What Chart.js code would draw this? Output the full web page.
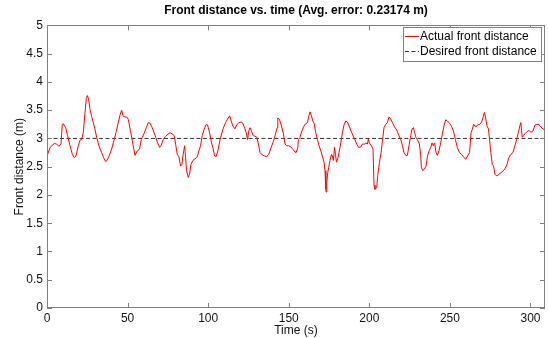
<!DOCTYPE html>
<html>
<head>
<meta charset="utf-8">
<script src="https://cdn.jsdelivr.net/npm/chart.js@4/dist/chart.umd.min.js"></script>
<style>
  html, body { margin: 0; padding: 0; background: #fff; }
  #wrap { width: 548px; height: 338px; }
</style>
</head>
<body>
<div id="wrap"><canvas id="chart" width="548" height="338"></canvas></div>
<script>
// values
const time = [0.4, 1.9, 4.5, 6.0, 7.4, 8.7, 9.5, 10.1, 11.6, 12.8, 14.3, 15.7, 16.9, 18.0, 19.4, 20.5, 21.5, 22.5, 23.6, 24.4,
  25.0, 25.8, 26.7, 27.7, 28.7, 29.8, 30.8, 32.2, 33.9, 35.1, 36.4, 37.2, 38.4, 40.1, 41.5, 42.8, 44.2, 45.4, 46.3, 47.3,
  48.4, 49.4, 50.4, 51.9, 53.3, 54.6, 56.0, 57.4, 58.5, 60.1, 61.6, 62.8, 64.0, 65.3, 67.0, 68.4, 69.9, 70.9, 72.1, 73.6,
  75.2, 76.4, 77.7, 78.9, 79.8, 80.8, 81.8, 82.9, 83.7, 84.5, 85.4, 86.0, 86.6, 87.6, 88.5, 89.3, 90.5, 91.8, 92.8, 93.4,
  94.2, 95.3, 96.3, 97.5, 98.8, 99.6, 100.9, 102.1, 102.9, 104.0, 105.0, 106.0, 107.4, 109.1, 110.8, 112.0, 113.3, 114.3, 115.3, 116.6,
  117.8, 119.0, 120.5, 121.5, 122.8, 123.6, 124.4, 125.2, 126.0, 126.9, 127.9, 129.0, 130.2, 131.2, 132.2, 133.5, 135.0, 136.4, 137.6, 139.1,
  140.5, 141.8, 142.8, 143.2, 144.2, 145.5, 146.7, 147.7, 148.8, 150.0, 151.3, 152.5, 153.8, 154.6, 155.6, 156.0, 157.0, 158.1, 159.1, 160.4,
  161.6, 162.4, 163.2, 164.1, 164.9, 165.7, 166.8, 167.8, 168.8, 169.9, 171.1, 171.9, 172.5, 173.0, 173.2, 173.6, 174.2, 174.8, 175.6, 176.5,
  177.1, 177.7, 178.4, 179.0, 179.6, 180.4, 181.2, 182.3, 183.3, 184.3, 185.4, 186.4, 187.4, 188.7, 189.7, 191.0, 192.2, 193.4, 194.7, 195.7,
  196.9, 197.9, 198.8, 199.4, 200.0, 201.3, 202.3, 202.9, 203.5, 204.6, 205.2, 206.3, 207.3, 208.1, 209.1, 210.2, 211.2, 212.2, 213.3, 214.5,
  215.7, 217.0, 218.2, 219.5, 220.5, 221.5, 222.6, 223.6, 224.6, 225.7, 226.5, 227.4, 228.1, 228.9, 229.8, 231.1, 231.9, 232.3, 233.1, 234.2,
  235.2, 236.1, 237.1, 238.1, 238.9, 239.7, 240.5, 241.4, 242.2, 243.2, 244.3, 245.3, 246.3, 247.4, 248.4, 249.7, 250.9, 252.2, 253.4, 254.6,
  255.9, 257.1, 258.3, 259.8, 261.0, 262.2, 263.1, 263.9, 264.7, 266.0, 267.2, 268.6, 269.7, 270.7, 271.4, 272.2, 273.0, 273.9, 274.6, 275.4,
  276.3, 277.1, 277.9, 278.8, 280.0, 281.3, 282.5, 284.1, 285.4, 286.6, 287.9, 289.1, 290.3, 291.4, 292.4, 293.4, 294.0, 294.9, 295.7, 296.5,
  297.8, 299.0, 300.3, 301.5, 302.8, 304.0, 305.3, 306.5, 307.7, 309.0];
const actual = [2.72, 2.84, 2.91, 2.90, 2.86, 2.90, 3.25, 3.26, 3.19, 3.05, 2.87, 2.72, 2.66, 2.69, 2.87, 2.97, 2.98, 3.10, 3.46, 3.72,
  3.76, 3.70, 3.51, 3.39, 3.28, 3.16, 3.02, 2.87, 2.75, 2.66, 2.59, 2.61, 2.68, 2.81, 2.96, 3.10, 3.28, 3.42, 3.50, 3.39,
  3.38, 3.38, 3.34, 3.12, 2.90, 2.70, 2.78, 2.81, 2.98, 3.08, 3.19, 3.28, 3.27, 3.19, 3.06, 2.94, 2.84, 2.88, 2.98, 3.04,
  3.08, 3.10, 3.08, 3.05, 2.90, 2.72, 2.68, 2.51, 2.54, 2.72, 2.87, 2.66, 2.43, 2.31, 2.37, 2.54, 2.61, 2.64, 2.66, 2.69,
  2.78, 2.87, 3.05, 3.16, 3.25, 3.24, 3.10, 2.92, 2.84, 2.69, 2.68, 2.78, 2.98, 3.16, 3.28, 3.34, 3.40, 3.31, 3.22, 3.17,
  3.24, 3.28, 3.29, 3.27, 3.17, 3.10, 2.98, 3.13, 3.19, 3.13, 3.05, 3.04, 3.02, 2.90, 2.75, 2.71, 2.69, 2.68, 2.72, 2.84,
  2.95, 3.08, 3.19, 3.36, 3.34, 3.22, 3.08, 2.90, 2.87, 2.87, 2.85, 2.81, 2.76, 2.75, 2.84, 2.98, 3.02, 3.13, 3.20, 3.26,
  3.28, 3.39, 3.47, 3.40, 3.31, 3.27, 3.10, 2.98, 2.87, 2.78, 2.66, 2.58, 2.43, 2.10, 2.05, 2.22, 2.40, 2.49, 2.61, 2.72,
  2.69, 2.61, 2.84, 2.72, 2.58, 2.64, 2.75, 2.92, 3.10, 3.24, 3.31, 3.29, 3.22, 3.13, 3.06, 2.98, 2.90, 2.84, 2.85, 2.90,
  2.90, 2.92, 2.90, 2.99, 2.92, 2.87, 2.81, 2.17, 2.10, 2.13, 2.34, 2.58, 2.75, 2.95, 3.19, 3.25, 3.28, 3.38, 3.34, 3.27,
  3.20, 3.15, 3.06, 2.98, 2.88, 2.75, 2.70, 2.70, 2.87, 3.05, 3.17, 3.19, 3.10, 3.02, 2.98, 2.90, 2.69, 2.49, 2.43, 2.46,
  2.51, 2.69, 2.78, 2.84, 2.92, 2.87, 2.92, 2.75, 2.70, 2.78, 2.92, 3.08, 3.22, 3.33, 3.31, 3.27, 3.22, 3.13, 2.98, 2.84,
  2.75, 2.72, 2.68, 2.63, 2.69, 2.75, 3.10, 3.16, 3.25, 3.20, 3.24, 3.25, 3.29, 3.39, 3.46, 3.36, 3.22, 3.17, 2.98, 2.75,
  2.54, 2.51, 2.37, 2.34, 2.35, 2.39, 2.41, 2.46, 2.54, 2.66, 2.72, 2.75, 2.87, 2.98, 3.10, 3.22, 3.28, 3.02, 3.05, 3.08,
  3.12, 3.14, 3.11, 3.13, 3.24, 3.25, 3.24, 3.20, 3.17, 3.15];
const desiredTime = [0, 309];
const desired = [3, 3];
const xTicks = [0, 50, 100, 150, 200, 250, 300];
const yTicks = [0, 0.5, 1, 1.5, 2, 2.5, 3, 3.5, 4, 4.5, 5];

const FONT = "'Liberation Sans', Arial, Helvetica, sans-serif";
const AXIS_GRAY = "#808080";

// matlab-like box, inward ticks and boxed legend
const axisBox = {
  id: "axisBox",
  afterDatasetsDraw(chart) {
    const { ctx, chartArea: a, scales: { x, y } } = chart;
    ctx.save();
    ctx.strokeStyle = AXIS_GRAY;
    ctx.lineWidth = 1;
    ctx.beginPath();
    xTicks.forEach(v => {
      const px = Math.round(x.getPixelForValue(v)) + 0.5;
      ctx.moveTo(px, a.bottom); ctx.lineTo(px, a.bottom - 5);
      ctx.moveTo(px, a.top); ctx.lineTo(px, a.top + 5);
    });
    yTicks.forEach(v => {
      const py = Math.round(y.getPixelForValue(v)) + 0.5;
      ctx.moveTo(a.left, py); ctx.lineTo(a.left + 5, py);
      ctx.moveTo(a.right, py); ctx.lineTo(a.right - 5, py);
    });
    ctx.stroke();
    ctx.strokeRect(Math.round(a.left) + 0.5, Math.round(a.top) + 0.5,
      Math.round(a.right - a.left) - 1, Math.round(a.bottom - a.top) - 1);

    // legend
    ctx.font = "12px " + FONT;
    const ds = chart.data.datasets;
    const textW = Math.max(...ds.map(d => ctx.measureText(d.label).width));
    const w = Math.round(textW + 21), h = 34;
    const right = Math.round(a.right) - 4, top = Math.round(a.top) + 2;
    const left = right - w;
    ctx.fillStyle = "#fff";
    ctx.fillRect(left, top, w, h);
    ctx.strokeStyle = AXIS_GRAY;
    ctx.strokeRect(left + 0.5, top + 0.5, w, h);
    ds.forEach((d, i) => {
      const cy = top + 9.5 + i * 15;
      ctx.strokeStyle = d.borderColor;
      ctx.lineWidth = 1;
      ctx.setLineDash(d.borderDash || []);
      ctx.beginPath();
      ctx.moveTo(left + 2, cy); ctx.lineTo(left + 16, cy);
      ctx.stroke();
      ctx.setLineDash([]);
      ctx.fillStyle = "#000";
      ctx.textBaseline = "middle";
      ctx.fillText(d.label, left + 17, cy);
    });
    ctx.restore();
  }
};

new Chart(document.getElementById("chart"), {
  type: "line",
  data: {
    datasets: [
      {
        label: "Actual front distance",
        data: time.map((t, i) => ({ x: t, y: actual[i] })),
        borderColor: "#ff0000",
        borderWidth: 1,
        pointRadius: 0,
        tension: 0,
        fill: false
      },
      {
        label: "Desired front distance",
        data: desiredTime.map((t, i) => ({ x: t, y: desired[i] })),
        borderColor: "#333333",
        borderWidth: 1,
        borderDash: [4, 2.5],
        pointRadius: 0,
        fill: false
      }
    ]
  },
  options: {
    responsive: false,
    animation: false,
    layout: { padding: { left: 0, right: 3, top: 0, bottom: 0 } },
    plugins: {
      legend: { display: false },
      tooltip: { enabled: false },
      title: {
        display: true,
        fullSize: false,
        text: "Front distance vs. time (Avg. error: 0.23174 m)",
        color: "#000",
        font: { family: FONT, size: 12, weight: "bold" },
        padding: { top: 3, bottom: 8 }
      }
    },
    scales: {
      x: {
        type: "linear",
        min: 0,
        max: 309,
        afterFit: s => { s.height = 30; },
        afterBuildTicks: s => { s.ticks = xTicks.map(v => ({ value: v })); },
        grid: { display: false, drawTicks: false },
        border: { display: false },
        ticks: { color: "#111", padding: 3, maxRotation: 0, font: { family: FONT, size: 12 } },
        title: { display: true, text: "Time (s)", color: "#111", padding: { top: 0, bottom: 0 }, font: { family: FONT, size: 12 } }
      },
      y: {
        type: "linear",
        min: 0,
        max: 5,
        afterFit: s => { s.width = 47; },
        afterBuildTicks: s => { s.ticks = yTicks.map(v => ({ value: v })); },
        grid: { display: false, drawTicks: false },
        border: { display: false },
        ticks: { color: "#111", padding: 4, font: { family: FONT, size: 12 }, callback: v => String(v) },
        title: { display: true, text: "Front distance (m)", color: "#111", padding: { top: 12, bottom: 0 }, font: { family: FONT, size: 12 } }
      }
    }
  },
  plugins: [axisBox]
});
</script>
</body>
</html>
